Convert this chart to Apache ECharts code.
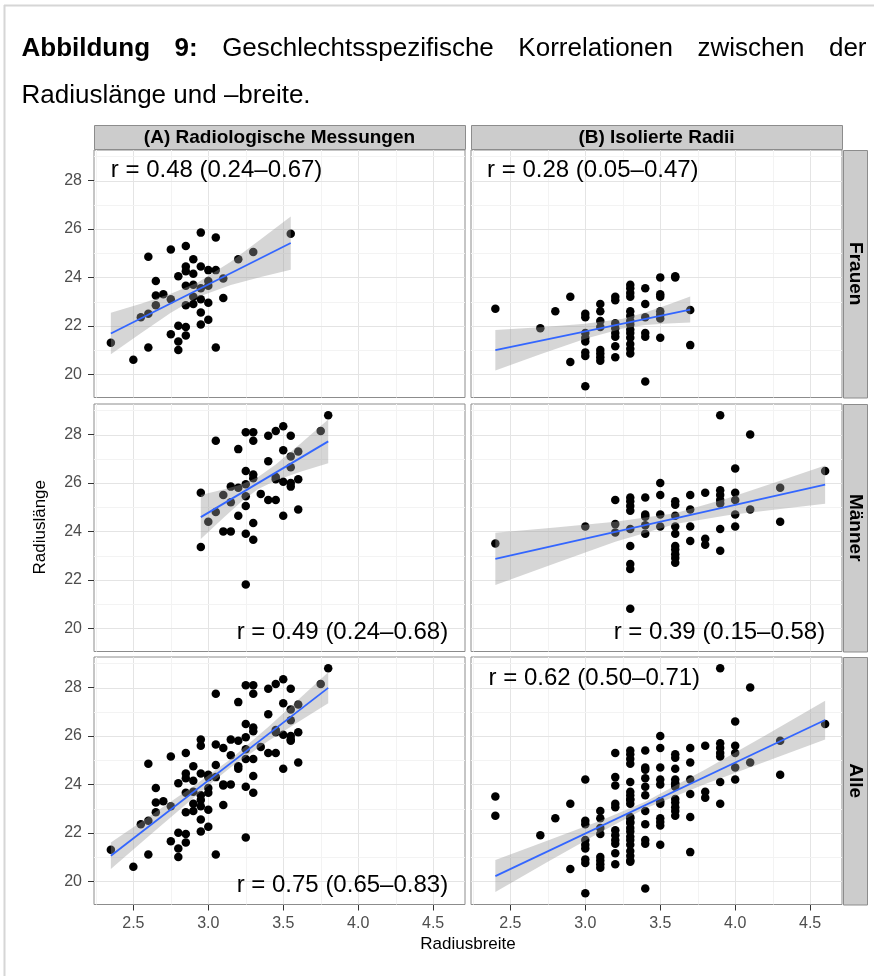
<!DOCTYPE html>
<html><head><meta charset="utf-8">
<script src="https://cdn.jsdelivr.net/npm/echarts@6/dist/echarts.min.js"></script>
<style>html,body{margin:0;padding:0;background:#fff}#c{width:874px;height:976px}</style>
</head><body><div id="c"></div>
<script>
// ---------- ticks / labels ----------
const xTicks = [2.5, 3.0, 3.5, 4.0, 4.5];
const xMinor = [2.25, 2.75, 3.25, 3.75, 4.25];
const yTicks = [20, 22, 24, 26, 28];
const yMinor = [21, 23, 25, 27, 29];
const colNames = ['(A) Radiologische Messungen', '(B) Isolierte Radii'];
const rowNames = ['Frauen', 'Männer', 'Alle'];
const xTitle = 'Radiusbreite';
const yTitle = 'Radiuslänge';

// ---------- (A) Radiologische Messungen ----------
const frauenA_x = [2.35,2.5,2.55,2.6,2.6,2.6,2.65,2.65,2.65,2.7,2.75,2.75,2.75,2.8,2.8,2.8,2.8,2.85,2.85,2.85,2.85,2.85,2.85,2.85,2.9,2.9,2.9,2.9,2.9,2.95,2.95,2.95,2.95,2.95,2.95,3.0,3.0,3.0,3.0,3.0,3.05,3.05,3.05,3.1,3.1,3.2,3.3,3.55];
const frauenA_y = [21.3,20.6,22.35,22.5,24.85,21.1,23.85,23.25,22.85,23.3,25.15,23.1,21.65,24.05,22.0,21.35,21.0,25.3,24.45,24.25,23.65,22.85,21.95,21.6,24.75,24.15,23.7,23.2,22.9,25.85,24.45,23.55,23.1,22.55,22.05,24.3,23.85,23.65,22.95,22.25,25.65,24.3,21.1,23.95,23.15,24.75,25.05,25.8];
const maennerA_x = [2.95,2.95,3.0,3.05,3.05,3.1,3.1,3.15,3.15,3.15,3.2,3.2,3.2,3.25,3.25,3.25,3.25,3.25,3.25,3.25,3.3,3.3,3.3,3.3,3.3,3.3,3.35,3.4,3.4,3.4,3.45,3.45,3.45,3.45,3.5,3.5,3.5,3.5,3.55,3.55,3.55,3.55,3.55,3.6,3.6,3.6,3.75,3.8];
const maennerA_y = [25.6,23.35,24.4,27.75,24.8,25.5,24.0,25.85,25.2,24.0,27.4,25.8,24.65,28.1,26.5,25.95,25.45,25.05,23.9,21.8,28.1,27.75,26.35,26.2,24.35,23.65,25.55,27.95,26.9,25.3,28.15,26.25,26.15,25.3,28.35,27.35,26.05,24.65,27.95,27.1,26.65,26.0,25.85,27.3,26.15,24.9,28.15,28.8];

// ---------- (B) Isolierte Radii ----------
const frauenB_x = [2.4,2.7,2.8,2.9,2.9,3.0,3.0,3.0,3.0,3.0,3.0,3.0,3.0,3.1,3.1,3.1,3.1,3.1,3.1,3.1,3.1,3.2,3.2,3.2,3.2,3.2,3.2,3.2,3.2,3.3,3.3,3.3,3.3,3.3,3.3,3.3,3.3,3.3,3.3,3.3,3.3,3.3,3.3,3.4,3.4,3.4,3.4,3.4,3.4,3.5,3.5,3.5,3.5,3.5,3.5,3.5,3.6,3.6,3.7,3.7];
const frauenB_y = [22.7,21.9,22.6,23.2,20.5,22.5,22.35,21.7,21.5,21.35,20.9,20.75,19.5,22.9,22.6,22.2,21.95,21.0,20.85,20.7,20.55,23.2,23.05,22.1,21.9,21.7,21.55,21.15,20.7,23.7,23.55,23.35,23.2,22.6,22.4,22.2,22.05,21.85,21.7,21.5,21.25,21.05,20.85,23.55,22.9,22.35,21.7,21.55,19.7,24.0,23.3,23.2,22.6,22.45,22.3,21.5,24.05,24.0,22.65,21.2];
const maennerB_x = [2.4,3.0,3.2,3.2,3.2,3.3,3.3,3.3,3.3,3.3,3.3,3.3,3.3,3.3,3.4,3.4,3.4,3.4,3.4,3.5,3.5,3.5,3.5,3.6,3.6,3.6,3.6,3.6,3.6,3.6,3.6,3.6,3.6,3.7,3.7,3.7,3.7,3.8,3.8,3.8,3.9,3.9,3.9,3.9,3.9,3.9,3.9,4.0,4.0,4.0,4.0,4.0,4.1,4.1,4.3,4.3,4.6];
const maennerB_y = [23.5,24.2,25.3,24.3,23.95,25.4,25.25,25.05,24.85,24.1,23.4,22.65,22.45,20.8,25.4,24.7,24.6,24.25,23.9,26.0,25.5,24.7,24.2,25.25,25.1,24.65,24.2,23.9,23.4,23.25,23.05,22.9,22.7,25.5,24.9,24.2,23.6,25.6,23.7,23.45,28.8,25.7,25.5,25.3,25.15,24.1,23.2,26.6,25.6,25.3,24.7,24.2,28.0,24.9,25.8,24.4,26.5];

// ---------- fitted lines ----------
const fitFA_x = [2.35, 3.55],  fitFA_y = [21.68, 25.42];
const fitMA_x = [2.95, 3.8],   fitMA_y = [24.59, 27.72];
const fitAA_x = [2.35, 3.8],   fitAA_y = [21.05, 27.99];
const fitFB_x = [2.4, 3.7],    fitFB_y = [20.99, 22.67];
const fitMB_x = [2.4, 4.6],    fitMB_y = [22.86, 25.93];
const fitAB_x = [2.4, 4.6],    fitAB_y = [20.21, 26.66];

// ---------- confidence bands ----------
const bandFA_x = [2.35,2.55,2.75,2.93,3.15,3.35,3.55];
const bandFA_lo = [20.82,21.69,22.54,23.19,23.69,24.02,24.32];
const bandFA_hi = [22.54,22.91,23.32,23.79,24.65,25.58,26.52];
const bandMA_x = [2.95,3.1,3.22,3.33,3.45,3.62,3.8];
const bandMA_lo = [23.68,24.55,25.22,25.74,26.10,26.47,26.82];
const bandMA_hi = [25.50,25.73,25.94,26.24,26.76,27.65,28.62];
const bandAA_x = [2.35,2.6,2.9,3.15,3.4,3.6,3.8];
const bandAA_lo = [20.50,21.85,23.44,24.71,25.79,26.58,27.35];
const bandAA_hi = [21.60,22.65,23.92,25.05,26.37,27.50,28.63];
const bandFB_x = [2.4,2.7,3.0,3.25,3.4,3.55,3.7];
const bandFB_lo = [20.15,20.82,21.46,21.89,22.03,22.09,22.14];
const bandFB_hi = [21.83,21.94,22.08,22.29,22.55,22.87,23.21];
const bandMB_x = [2.4,2.8,3.2,3.6,3.95,4.3,4.6];
const bandMB_lo = [21.78,22.68,23.57,24.31,24.67,24.93,25.14];
const bandMB_hi = [23.94,24.16,24.40,24.75,25.37,26.09,26.72];
const bandAB_x = [2.4,2.75,3.1,3.4,3.8,4.2,4.6];
const bandAB_lo = [19.55,20.80,22.02,23.00,24.02,24.94,25.86];
const bandAB_hi = [20.87,21.68,22.50,23.28,24.61,26.02,27.46];

// ---------- correlation labels ----------
const rText = ['r = 0.48 (0.24\u20130.67)', 'r = 0.28 (0.05\u20130.47)', 'r = 0.49 (0.24\u20130.68)', 'r = 0.39 (0.15\u20130.58)', 'r = 0.75 (0.65\u20130.83)', 'r = 0.62 (0.50\u20130.71)'];
const rX = [2.35, 2.345, 4.6, 4.6, 4.6, 2.355];
const rY = [28.42, 28.42, 19.84, 19.84, 19.82, 28.38];
const rAlign = ['left', 'left', 'right', 'right', 'right', 'left'];

// ---------- build ----------
const FONT = '"Liberation Sans", Arial, Helvetica, sans-serif';
const panels = [
  {row:0,col:0,x:frauenA_x,y:frauenA_y,fx:fitFA_x,fy:fitFA_y,bx:bandFA_x,blo:bandFA_lo,bhi:bandFA_hi},
  {row:0,col:1,x:frauenB_x,y:frauenB_y,fx:fitFB_x,fy:fitFB_y,bx:bandFB_x,blo:bandFB_lo,bhi:bandFB_hi},
  {row:1,col:0,x:maennerA_x,y:maennerA_y,fx:fitMA_x,fy:fitMA_y,bx:bandMA_x,blo:bandMA_lo,bhi:bandMA_hi},
  {row:1,col:1,x:maennerB_x,y:maennerB_y,fx:fitMB_x,fy:fitMB_y,bx:bandMB_x,blo:bandMB_lo,bhi:bandMB_hi},
  {row:2,col:0,x:frauenA_x.concat(maennerA_x),y:frauenA_y.concat(maennerA_y),fx:fitAA_x,fy:fitAA_y,bx:bandAA_x,blo:bandAA_lo,bhi:bandAA_hi},
  {row:2,col:1,x:frauenB_x.concat(maennerB_x),y:frauenB_y.concat(maennerB_y),fx:fitAB_x,fy:fitAB_y,bx:bandAB_x,blo:bandAB_lo,bhi:bandAB_hi}
];

const colLeft = [94, 471], colW = 371;
const rowTop = [150, 404, 657], rowH = 247.5;
const XMIN = 2.2375, XMAX = 4.7125, YMIN = 19.035, YMAX = 29.265;

const grids = [], xAxes = [], yAxes = [], series = [];
const gridLines = [];
xTicks.forEach(v => gridLines.push([v, 0, 1]));
xMinor.forEach(v => gridLines.push([v, 0, 0]));
yTicks.forEach(v => gridLines.push([v, 1, 1]));
yMinor.forEach(v => gridLines.push([v, 1, 0]));

panels.forEach((p, i) => {
  grids.push({left: colLeft[p.col], top: rowTop[p.row], width: colW, height: rowH,
    show: true, backgroundColor: '#fff', borderColor: '#8c8c8c', borderWidth: 1});
  xAxes.push({gridIndex: i, type: 'value', min: XMIN, max: XMAX,
    axisLine: {show: false}, splitLine: {show: false},
    axisTick: {show: p.row === 2, length: 6, customValues: xTicks, lineStyle: {color: '#333', width: 1}},
    axisLabel: {show: p.row === 2, customValues: xTicks, formatter: v => v.toFixed(1), fontSize: 16, color: '#4d4d4d', margin: 11, fontFamily: FONT}});
  yAxes.push({gridIndex: i, type: 'value', min: YMIN, max: YMAX,
    axisLine: {show: false}, splitLine: {show: false},
    axisTick: {show: p.col === 0, length: 6, customValues: yTicks, lineStyle: {color: '#333', width: 1}},
    axisLabel: {show: p.col === 0, customValues: yTicks, fontSize: 16, color: '#4d4d4d', margin: 12, fontFamily: FONT}});

  series.push({type: 'custom', xAxisIndex: i, yAxisIndex: i, silent: true, z: 1, data: gridLines,
    renderItem: (params, api) => {
      const v = api.value(0), o = api.value(1), major = api.value(2);
      const cs = params.coordSys;
      let shape;
      if (o === 0) { const x = Math.round(api.coord([v, 24])[0]) + 0.5; shape = {x1: x, y1: cs.y, x2: x, y2: cs.y + cs.height}; }
      else { const y = Math.round(api.coord([3, v])[1]) + 0.5; shape = {x1: cs.x, y1: y, x2: cs.x + cs.width, y2: y}; }
      return {type: 'line', shape: shape, style: {stroke: major ? '#e4e4e4' : '#f3f3f3', lineWidth: 1}};
    }});

  series.push({type: 'scatter', xAxisIndex: i, yAxisIndex: i, silent: true, z: 2,
    data: p.x.map((x, k) => [x, p.y[k]]), symbolSize: 8.5, itemStyle: {color: '#000', opacity: 1}});

  series.push({type: 'custom', xAxisIndex: i, yAxisIndex: i, silent: true, z: 3,
    data: [[p.bx[0], p.blo[0]]],
    renderItem: (params, api) => {
      const pts = [];
      p.bx.forEach((x, k) => pts.push(api.coord([x, p.bhi[k]])));
      for (let k = p.bx.length - 1; k >= 0; k--) pts.push(api.coord([p.bx[k], p.blo[k]]));
      return {type: 'polygon', shape: {points: pts, smooth: 0}, style: {fill: 'rgba(153,153,153,0.4)'}};
    }});

  series.push({type: 'line', xAxisIndex: i, yAxisIndex: i, silent: true, z: 4,
    data: p.fx.map((x, k) => [x, p.fy[k]]), symbol: 'none', lineStyle: {color: '#3366FF', width: 1.8}});

  series.push({type: 'custom', xAxisIndex: i, yAxisIndex: i, silent: true, z: 5,
    data: [[rX[i], rY[i]]],
    renderItem: (params, api) => {
      const c = api.coord([api.value(0), api.value(1)]);
      return {type: 'text', x: c[0], y: c[1], style: {text: rText[i], fontSize: 24, fontFamily: FONT, fill: '#000', align: rAlign[i], verticalAlign: 'middle'}};
    }});
});

// ---------- graphics: frame, title, strips, axis titles ----------
const graphics = [];
graphics.push({type: 'line', shape: {x1: 4, y1: 5.5, x2: 874, y2: 5.5}, style: {stroke: '#d6d6d6', lineWidth: 2}, silent: true});
graphics.push({type: 'line', shape: {x1: 4.5, y1: 5, x2: 4.5, y2: 976}, style: {stroke: '#d6d6d6', lineWidth: 2}, silent: true});

const ctx = document.createElement('canvas').getContext('2d');
function tw(t, bold, size) { ctx.font = (bold ? 'bold ' : '') + size + 'px ' + FONT; return ctx.measureText(t).width; }
const TF = 26;
const titleWords = [['Abbildung', true], ['9:', true], ['Geschlechtsspezifische', false], ['Korrelationen', false], ['zwischen', false], ['der', false]];
const tx0 = 21.5, tx1 = 866.5;
let wsum = 0; titleWords.forEach(w => wsum += tw(w[0], w[1], TF));
const gap = (tx1 - tx0 - wsum) / (titleWords.length - 1);
let cx = tx0;
titleWords.forEach(w => {
  graphics.push({type: 'text', x: cx, y: 49, silent: true,
    style: {text: w[0], font: (w[1] ? 'bold ' : '') + TF + 'px ' + FONT, fill: '#000', textAlign: 'left', textVerticalAlign: 'middle'}});
  cx += tw(w[0], w[1], TF) + gap;
});
graphics.push({type: 'text', x: tx0, y: 96, silent: true,
  style: {text: 'Radiuslänge und \u2013breite.', font: TF + 'px ' + FONT, fill: '#000', textAlign: 'left', textVerticalAlign: 'middle'}});

const stripT = 25;
colNames.forEach((n, c) => {
  graphics.push({type: 'rect', shape: {x: colLeft[c] + 0.5, y: rowTop[0] - stripT + 0.5, width: colW, height: stripT - 1}, style: {fill: '#cccccc', stroke: '#8c8c8c', lineWidth: 1}, silent: true});
  graphics.push({type: 'text', x: colLeft[c] + colW / 2, y: rowTop[0] - stripT / 2, silent: true,
    style: {text: n, font: 'bold 19px ' + FONT, fill: '#000', textAlign: 'center', textVerticalAlign: 'middle'}});
});
const stripX = colLeft[1] + colW + 1;
rowNames.forEach((n, r) => {
  graphics.push({type: 'rect', shape: {x: stripX + 0.5, y: rowTop[r] + 0.5, width: stripT - 1, height: rowH}, style: {fill: '#cccccc', stroke: '#8c8c8c', lineWidth: 1}, silent: true});
  graphics.push({type: 'text', x: stripX + stripT / 2, y: rowTop[r] + rowH / 2, rotation: -Math.PI / 2, silent: true,
    style: {text: n, font: 'bold 19px ' + FONT, fill: '#000', textAlign: 'center', textVerticalAlign: 'middle'}});
});
graphics.push({type: 'text', x: (colLeft[0] + colLeft[1] + colW) / 2, y: 944, silent: true,
  style: {text: xTitle, font: '17px ' + FONT, fill: '#000', textAlign: 'center', textVerticalAlign: 'middle'}});
graphics.push({type: 'text', x: 40, y: (rowTop[0] + rowTop[2] + rowH) / 2, rotation: Math.PI / 2, silent: true,
  style: {text: yTitle, font: '17px ' + FONT, fill: '#000', textAlign: 'center', textVerticalAlign: 'middle'}});

const chart = echarts.init(document.getElementById('c'), null, {renderer: 'canvas'});
chart.setOption({animation: false, backgroundColor: '#fff', grid: grids, xAxis: xAxes, yAxis: yAxes, series: series, graphic: {elements: graphics}});
</script></body></html>
